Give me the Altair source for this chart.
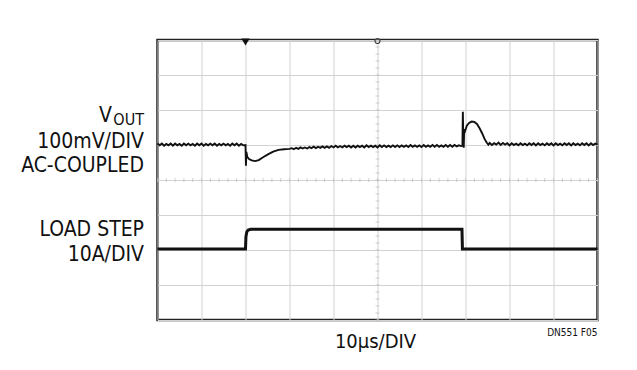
import altair as alt
import pandas as pd

# ---------------- data (in scope divisions) ----------------
X_DIVS = list(range(0, 11))
Y_DIVS = list(range(-4, 5))
MINOR_X = [i / 5 for i in range(0, 51)]
MINOR_Y = [i / 5 for i in range(-20, 21)]

SAMPLE_DT = 0.05  # scope sample interval (div)

# VOUT ripple before the load step (t = 0.00 .. 1.95)
vout_seg_a = [1.04, 0.99, 1.04, 0.98, 1.03, 0.99, 1.04, 0.98, 1.04, 0.99,
              1.03, 0.98, 1.04, 0.99, 1.04, 0.99, 1.03, 0.98, 1.04, 0.99,
              1.04, 0.98, 1.03, 0.99, 1.04, 0.99, 1.04, 0.98, 1.03, 0.99,
              1.04, 0.99, 1.03, 0.98, 1.04, 0.99, 1.04, 0.98, 1.03, 0.99]
# load-step transient
vout_tr1_t = [2.00, 2.01, 2.02, 2.04, 2.08, 2.14, 2.22, 2.30, 2.40, 2.52, 2.63, 2.75, 2.88, 3.00]
vout_tr1_v = [1.00, 0.41, 0.80, 0.66, 0.60, 0.56, 0.54, 0.57, 0.65, 0.74, 0.81, 0.86, 0.88, 0.89]
# ripple under load (t = 3.05 .. 6.90)
vout_seg_b = [0.91, 0.88, 0.92, 0.89, 0.93, 0.90, 0.93, 0.90, 0.94, 0.91,
              0.95, 0.91, 0.95, 0.92, 0.96, 0.92, 0.96, 0.92, 0.97, 0.93,
              0.98, 0.93, 0.97, 0.93, 0.98, 0.94, 0.98, 0.93, 0.98, 0.93,
              0.98, 0.94, 0.98, 0.93, 0.99, 0.94, 0.98, 0.94, 0.98, 0.93,
              0.99, 0.94, 0.99, 0.94, 0.98, 0.94, 0.99, 0.94, 0.99, 0.94,
              0.99, 0.95, 0.99, 0.94, 1.00, 0.95, 0.99, 0.95, 0.99, 0.94,
              1.00, 0.95, 0.99, 0.95, 1.00, 0.95, 1.00, 0.95, 0.99, 0.95,
              1.00, 0.95, 1.00, 0.95, 1.00, 0.96, 0.99, 0.97]
# load-release transient
vout_tr2_t = [6.93, 6.94, 6.95, 6.96, 6.97, 6.99, 7.03, 7.08, 7.14, 7.20, 7.26, 7.32, 7.38, 7.43, 7.48, 7.52]
vout_tr2_v = [0.98, 1.95, 1.10, 0.92, 1.45, 1.40, 1.55, 1.63, 1.67, 1.66, 1.60, 1.48, 1.33, 1.18, 1.07, 1.01]
# ripple after release (t = 7.55 .. 10.00)
vout_seg_c = [1.06, 1.00, 1.05, 1.01, 1.07, 1.00, 1.06, 1.01, 1.05, 0.99,
              1.05, 1.00, 1.04, 0.99, 1.05, 1.00, 1.04, 0.99, 1.05, 1.00,
              1.05, 0.99, 1.05, 1.00, 1.04, 0.99, 1.05, 1.00, 1.05, 0.99,
              1.05, 1.00, 1.04, 0.99, 1.05, 1.00, 1.05, 0.99, 1.05, 1.00,
              1.04, 0.99, 1.05, 1.00, 1.05, 0.99, 1.05, 1.00, 1.04, 1.01]

load_t = [0.00, 2.00, 2.01, 2.03, 2.06, 2.12, 6.92, 6.93, 10.00]
load_v = [-1.97, -1.97, -1.62, -1.48, -1.43, -1.41, -1.41, -1.97, -1.97]

trig_filled_t = [2.0]
trig_hollow_t = [5.0]

LEFT_LABELS = ["100mV/DIV", "AC-COUPLED", "LOAD STEP", "10A/DIV"]
X_LABEL = "10\u03bcs/DIV"
FIG_ID = "DN551 F05"

# ---------------- build tables ----------------
def seg(start, vals):
    return [round(start + SAMPLE_DT * i, 4) for i in range(len(vals))], vals

ta, va = seg(0.0, vout_seg_a)
tb, vb = seg(3.05, vout_seg_b)
tc, vc = seg(7.55, vout_seg_c)
vout_t = ta + vout_tr1_t + tb + vout_tr2_t + tc
vout_v = va + vout_tr1_v + vb + vout_tr2_v + vc
vout_df = pd.DataFrame({"t": vout_t, "v": vout_v, "i": range(len(vout_t))})
load_df = pd.DataFrame({"t": load_t, "v": load_v, "i": range(len(load_t))})

FONT = "DejaVu Sans Condensed, Liberation Sans, sans-serif"
W, H = 440, 280

xs = alt.Scale(domain=[0, 10], nice=False, zero=False)
ys = alt.Scale(domain=[-4, 4], nice=False, zero=False)
X = lambda f: alt.X(f, scale=xs, axis=alt.Axis(values=X_DIVS, grid=True, labels=False, ticks=False,
                                               domain=False, title=None, gridColor="#d2d2d2", gridWidth=1))
Y = lambda f: alt.Y(f, scale=ys, axis=alt.Axis(values=Y_DIVS, grid=True, labels=False, ticks=False,
                                               domain=False, title=None, gridColor="#d2d2d2", gridWidth=1))

minx = alt.Chart(pd.DataFrame({"t": MINOR_X, "v": [0] * len(MINOR_X)})).mark_tick(
    orient="vertical", size=4, thickness=1, color="#bdbdbd").encode(x=X("t:Q"), y=Y("v:Q"))
miny = alt.Chart(pd.DataFrame({"t": [5] * len(MINOR_Y), "v": MINOR_Y})).mark_tick(
    orient="horizontal", size=4, thickness=1, color="#bdbdbd").encode(x=X("t:Q"), y=Y("v:Q"))

load_line = alt.Chart(load_df).mark_line(color="#111111", strokeWidth=3, interpolate="linear").encode(
    x=X("t:Q"), y=Y("v:Q"), order="i:Q")
vout_line = alt.Chart(vout_df).mark_line(color="#111111", strokeWidth=1.9, interpolate="linear").encode(
    x=X("t:Q"), y=Y("v:Q"), order="i:Q")

trig1 = alt.Chart(pd.DataFrame({"t": trig_filled_t, "v": [4] * len(trig_filled_t)})).mark_point(
    shape="triangle-down", filled=True, size=70, color="#111111", yOffset=2, opacity=1).encode(x=X("t:Q"), y=Y("v:Q"))
trig2 = alt.Chart(pd.DataFrame({"t": trig_hollow_t, "v": [4] * len(trig_hollow_t)})).mark_point(
    shape="circle", filled=False, size=25, color="#444444", strokeWidth=1.2, yOffset=1, opacity=1).encode(x=X("t:Q"), y=Y("v:Q"))

one = pd.DataFrame({"a": [0]})
def txt(s, x, y, size, align="right"):
    return alt.Chart(one).mark_text(text=s, font=FONT, fontSize=size, align=align, baseline="alphabetic",
                                    color="#111111").encode(x=alt.value(x), y=alt.value(y))

texts = [
    txt("V", -45.5, 81.5, 21),
    txt("OUT", -13.5, 84.5, 16),
    txt(LEFT_LABELS[0], -13.5, 108.3, 21),
    txt(LEFT_LABELS[1], -13.5, 131.7, 21),
    txt(LEFT_LABELS[2], -13.5, 195.7, 21),
    txt(LEFT_LABELS[3], -13.5, 220.7, 21),
    txt(X_LABEL, 218, 308.3, 20, align="center"),
    txt(FIG_ID, 440, 295.5, 10),
]

chart = alt.layer(minx, miny, load_line, vout_line, trig1, trig2, *texts).properties(
    width=W, height=H,
    autosize=alt.AutoSizeParams(type="none"),
    padding={"left": 149.5, "top": 32, "right": 31.5, "bottom": 42},
    background="white",
).configure_view(stroke="#222222", strokeWidth=2.5)

chart.save("out.html", embed_options={"renderer": "svg", "actions": False})
